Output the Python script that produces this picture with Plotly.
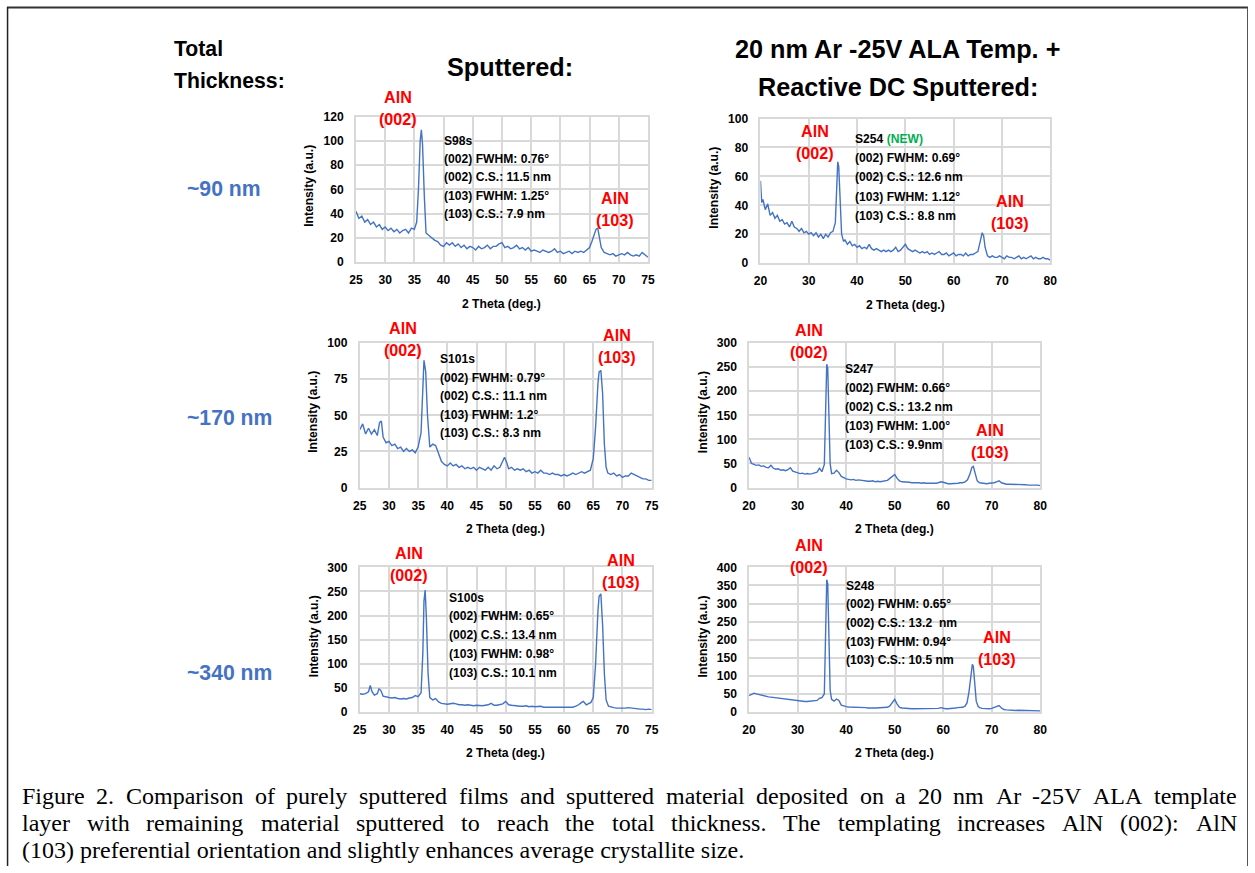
import plotly.graph_objects as go

W, H = 1255, 873
# The photographed page shows a small white pad around the document and is
# rescaled to the window; reference pixels are pre-compensated for that.
PAD = 6.0
SX = (W + 2 * PAD) / W
SY = (H + 2 * PAD) / H
BLUE = "#4472C4"
RED = "#FF0000"
GRID = "#D9D9D9"
SANS = "Liberation Sans, Arial, Helvetica, sans-serif"
SERIF = "Liberation Serif, Times New Roman, serif"

# ---------------- data ----------------
# S98s : sputtered, ~90 nm
two_theta_s98s = [
    25, 25.5, 26, 26.5, 27, 27.5, 28, 28.5, 29, 29.5, 30, 30.5, 31, 31.5, 32, 32.5, 33, 33.5, 34, 34.5, 35,
    35.4, 35.7, 36.0, 36.2, 36.4, 36.7, 37.0,
    37.5, 38, 38.5, 39, 39.5, 40, 40.5, 41, 41.5, 42,
    42.5, 43, 43.5, 44, 44.5, 45, 45.5, 46, 46.5, 47,
    47.5, 48, 48.5, 49, 49.5, 50, 50.5, 51, 51.5, 52,
    52.5, 53, 53.5, 54, 54.5, 55, 55.5, 56, 56.5, 57,
    57.5, 58, 58.5, 59, 59.5, 60, 60.5, 61, 61.5, 62,
    62.5, 63, 63.5, 64, 64.5, 65,
    65.4, 65.8, 66.1, 66.4, 66.7, 67.0,
    67.5, 68, 68.5, 69, 69.5, 70, 70.5, 71, 71.5, 72, 72.5, 73, 73.5, 74, 74.5, 75]
intensity_s98s = [
    42, 36, 38, 33, 35, 31, 33, 29, 31, 27, 29, 26, 28, 25, 27, 24, 26, 27, 24, 28, 27,
    33, 60, 100, 109, 97, 55, 24,
    22, 20, 18, 17, 14, 13, 16, 14, 16, 13,
    15, 12, 14, 11, 13, 12, 10, 13, 11, 12,
    14, 11, 13, 13, 15, 16, 12, 13, 11, 12,
    14, 11, 12, 10, 12, 9, 10, 9, 8, 10,
    9, 8, 9, 11, 8, 9, 7, 8, 9, 7,
    9, 8, 9, 8, 10, 12,
    17, 24, 27, 28, 20, 12,
    8, 7, 6, 7, 5, 6, 7, 6, 8, 6, 5, 6, 5, 8, 6, 4]

# S254 : templated, ~90 nm
two_theta_s254 = [
    20, 20.25,
    20.5, 21, 21.5, 22, 22.5, 23, 23.5, 24, 24.5, 25,
    25.5, 26, 26.5, 27, 27.5, 28, 28.5, 29, 29.5, 30,
    30.5, 31, 31.5, 32, 32.5, 33, 33.5, 34, 34.5, 35,
    35.5,
    35.8, 36.0, 36.2, 36.5, 36.8,
    37.2,
    37.5, 38, 38.5, 39, 39.5, 40, 40.5, 41, 41.5, 42,
    42.5, 43, 43.5, 44, 44.5, 45, 45.5, 46, 46.5, 47,
    47.5, 48, 48.5, 49, 49.5, 50, 50.5, 51, 51.5, 52,
    52.5, 53, 53.5, 54, 54.5, 55, 55.5, 56, 56.5, 57,
    57.5, 58, 58.5, 59, 59.5, 60, 60.5, 61, 61.5, 62,
    62.5, 63, 63.5, 64, 64.5, 65, 65.5,
    65.9, 66.2, 66.5,
    67, 67.5, 68, 68.5, 69, 69.5, 70, 70.5, 71, 71.5,
    72, 72.5, 73, 73.5, 74, 74.5, 75, 75.5, 76, 76.5,
    77, 77.5, 78, 78.5, 79, 79.5, 80]
intensity_s254 = [
    57, 42,
    44, 37, 41, 33, 35, 31, 33, 29, 30, 27,
    28, 25, 29, 25, 24, 22, 24, 21, 22, 20,
    21, 19, 21, 18, 20, 17, 20, 18, 21, 22,
    28,
    50, 70, 67, 40, 20,
    15,
    16, 13, 15, 12, 13, 11, 12, 10, 11, 10,
    13, 10, 9, 10, 9, 8, 9, 8, 9, 8,
    9, 11, 8, 9, 11, 13, 10, 9, 8, 9,
    8, 7, 8, 7, 8, 6, 7, 6, 7, 8,
    6, 6, 7, 5, 6, 7, 5, 6, 6, 5,
    7, 5, 6, 6, 7, 8, 15,
    21, 19, 11,
    5, 4, 5, 4, 4, 5, 4, 3, 5, 4,
    4, 3, 4, 5, 3, 4, 3, 4, 5, 3,
    4, 3, 3, 4, 3, 3, 2]

# S101s : sputtered, ~170 nm
two_theta_s101s = [
    25, 25.5, 26, 26.5, 27, 27.5, 28,
    28.4, 28.7,
    29, 29.5, 30, 30.5, 31, 31.5, 32, 32.5, 33, 33.5, 34, 34.5, 35, 35.5,
    35.8, 36.0, 36.3, 36.6, 37.0,
    37.5, 38, 38.5, 39, 39.5, 40, 40.5, 41, 41.5, 42,
    42.5, 43, 43.5, 44, 44.5, 45, 45.5, 46, 46.5, 47,
    47.5, 48, 48.5, 49, 49.5,
    49.8, 50.2,
    50.5, 51, 51.5, 52, 52.5, 53, 53.5, 54, 54.5, 55,
    55.5, 56, 56.5, 57, 57.5, 58, 58.5, 59, 59.5, 60,
    60.5, 61, 61.5, 62, 62.5, 63, 63.5, 64, 64.5,
    65.0, 65.4, 65.8, 66.0, 66.3, 66.6, 66.9, 67.2,
    67.5, 68, 68.5, 69, 69.5, 70, 70.5, 71, 71.5, 72,
    72.5, 73, 73.5, 74, 74.5, 75]
intensity_s101s = [
    40, 44, 37, 41, 37, 40, 36,
    45, 46,
    35, 31, 32, 29, 30, 27, 28, 25, 27, 25, 26, 24, 28, 38,
    76, 88, 80, 50, 28,
    30, 29, 23, 18, 16, 15, 17, 15, 16, 14,
    15, 13, 14, 13, 14, 12, 14, 13, 12, 14,
    12, 15, 13, 14, 18,
    21, 17,
    13, 14, 12, 13, 12, 13, 11, 12, 10, 11,
    10, 12, 10, 10, 9, 10, 9, 9, 8, 9,
    8, 9, 10, 9, 10, 11, 10, 11, 12,
    20, 42, 72, 80, 81, 65, 30, 14,
    10, 9, 10, 8, 9, 7, 8, 8, 10, 9,
    8, 7, 6, 6, 5, 5]

# S247 : templated, ~170 nm
two_theta_s247 = [
    20, 20.3,
    20.5, 21, 21.5, 22, 22.5, 23, 23.5, 24, 24.5, 25,
    25.5, 26, 26.5, 27, 27.5, 28, 28.5, 29, 29.5, 30,
    30.5, 31, 31.5, 32, 32.5, 33, 33.5, 34, 34.5, 35,
    35.5, 35.8, 36.0, 36.2, 36.4, 36.7, 37.0,
    37.5, 38, 38.5, 39, 39.5, 40, 40.5, 41, 41.5, 42,
    42.5, 43, 43.5, 44, 44.5, 45, 45.5, 46, 46.5, 47,
    47.5, 48, 48.5, 49, 49.5, 50, 50.5, 51, 51.5, 52,
    52.5, 53, 53.5, 54, 54.5, 55, 55.5, 56, 56.5, 57,
    57.5, 58, 58.5, 59, 59.5, 60, 60.5, 61, 61.5, 62,
    62.5, 63, 63.5, 64, 64.5, 65,
    65.5, 65.9, 66.2, 66.6, 67.0,
    67.5, 68, 68.5, 69, 69.5, 70, 70.5, 71, 71.5, 72,
    72.5, 73, 73.5, 74, 74.5, 75, 75.5, 76, 76.5, 77,
    77.5, 78, 78.5, 79, 79.5, 80]
intensity_s247 = [
    63, 57,
    50, 48, 46, 47, 44, 45, 42, 41, 46, 40,
    38, 39, 36, 37, 35, 37, 41, 34, 32, 30,
    29, 30, 28, 29, 28, 29, 30, 32, 40, 33,
    48, 150, 256, 248, 150, 50, 29,
    30, 36, 31, 23, 20, 18, 17, 16, 17, 15,
    16, 15, 14, 14, 13, 13, 14, 12, 13, 12,
    13, 14, 15, 19, 24, 27, 19, 14, 12, 12,
    11, 11, 10, 10, 11, 10, 9, 10, 9, 9,
    8, 9, 9, 10, 12, 11, 9, 8, 8, 8,
    9, 9, 10, 10, 12, 16,
    28, 42, 44, 30, 14,
    10, 9, 9, 8, 9, 9, 10, 12, 14, 10,
    8, 7, 7, 7, 6, 6, 7, 6, 6, 6,
    5, 5, 6, 6, 5, 4]

# S100s : sputtered, ~340 nm
two_theta_s100s = [
    25, 25.5, 26, 26.5,
    26.8, 27.1,
    27.5, 28,
    28.3, 28.6,
    29, 29.5, 30, 30.5, 31, 31.5, 32, 32.5, 33, 33.5, 34, 34.5, 35, 35.5,
    35.8, 36.0, 36.2, 36.4, 36.7, 37.0,
    37.5, 38, 38.5, 39, 39.5, 40, 40.5, 41, 41.5, 42,
    42.5, 43, 43.5, 44, 44.5, 45, 45.5, 46, 46.5, 47,
    47.5, 48, 48.5, 49, 49.5, 50, 50.5, 51, 51.5, 52,
    52.5, 53, 53.5, 54, 54.5, 55, 55.5, 56, 56.5, 57,
    57.5, 58, 58.5, 59, 59.5, 60, 60.5, 61, 61.5, 62,
    62.5,
    63.0, 63.3, 63.8, 64.2, 64.6, 65.0, 65.4, 65.8, 66.0, 66.3, 66.6, 66.9, 67.2,
    67.6, 68, 68.5, 69, 69.5, 70, 70.5, 71, 71.5, 72, 72.5, 73, 73.5, 74, 74.5, 75]
intensity_s100s = [
    38, 37, 38, 42,
    55, 42,
    35, 38,
    48, 45,
    33, 31, 30, 29, 30, 28, 27, 28, 27, 29, 30, 34, 32, 40,
    120, 230, 253, 200, 80, 30,
    25, 28, 21, 18, 17, 16, 17, 18, 17, 15,
    15, 14, 15, 14, 13, 14, 13, 13, 14, 15,
    18, 14, 14, 15, 17, 22, 15, 14, 13, 13,
    12, 12, 13, 11, 12, 11, 11, 12, 10, 10,
    10, 9, 9, 10, 9, 9, 9, 10, 10, 12,
    15,
    20, 22, 15, 18, 20, 30, 100, 210, 240, 245, 180, 80, 25,
    12, 10, 9, 8, 8, 7, 8, 9, 8, 7, 7, 6, 6, 5, 6, 5]

# S248 : templated, ~340 nm
two_theta_s248 = [
    20, 20.5, 21, 21.5, 22, 22.5, 23, 23.5, 24, 24.5,
    25, 25.5, 26, 26.5, 27, 27.5, 28, 28.5, 29, 29.5,
    30, 30.5, 31, 31.5, 32, 32.5, 33, 33.5, 34,
    34.5, 35, 35.5, 35.8, 36.0, 36.2, 36.4, 36.7, 37.0,
    37.5, 38, 38.5, 39, 39.5, 40, 40.5, 41, 41.5, 42,
    42.5, 43, 43.5, 44, 44.5, 45, 45.5, 46, 46.5, 47,
    47.5, 48, 48.5, 49, 49.5, 50, 50.5, 51, 51.5, 52,
    52.5, 53, 53.5, 54, 54.5, 55, 55.5, 56, 56.5, 57,
    57.5, 58, 58.5, 59, 59.5, 60, 60.5, 61, 61.5, 62,
    62.5, 63, 63.5, 64, 64.5,
    64.9, 65.3, 65.7, 66.0, 66.2, 66.5, 66.8, 67.2,
    67.5, 68, 68.5, 69, 69.5, 70, 70.5, 71, 71.5, 72,
    72.5, 73, 73.5, 74, 74.5, 75, 75.5, 76, 76.5, 77,
    77.5, 78, 78.5, 79, 79.5, 80]
intensity_s248 = [
    45, 48, 52, 50, 48, 47, 45, 44, 42, 41,
    40, 39, 38, 37, 36, 35, 35, 34, 33, 32,
    31, 30, 30, 29, 29, 30, 30, 31, 32,
    38, 40, 50, 200, 366, 355, 200, 60, 35,
    30, 36, 32, 19, 16, 15, 14, 14, 13, 13,
    13, 12, 12, 12, 11, 12, 11, 11, 11, 11,
    11, 12, 13, 17, 28, 35, 22, 13, 11, 10,
    10, 9, 9, 9, 9, 9, 8, 8, 8, 8,
    8, 8, 9, 10, 12, 10, 9, 9, 9, 10,
    11, 12, 12, 13, 16,
    25, 55, 110, 132, 126, 80, 30, 15,
    12, 10, 9, 9, 9, 10, 12, 16, 18, 11,
    7, 6, 5, 5, 5, 4, 5, 5, 4, 4,
    4, 4, 3, 3, 3, 3]

# annotation texts
sample_names = ["S98s", "S254 <span style='color:#00B050'>(NEW)</span>", "S101s", "S247", "S100s", "S248"]
fwhm_002 = ["0.76", "0.69", "0.79", "0.66", "0.65", "0.65"]
cs_002 = ["11.5 nm", "12.6 nm", "11.1 nm", "13.2 nm", "13.4 nm", "13.2  nm"]
fwhm_103 = ["1.25", "1.12", "1.2", "1.00", "0.98", "0.94"]
cs_103 = ["7.9 nm", "8.8 nm", "8.3 nm", "9.9nm", "10.1 nm", "10.5 nm"]
thickness_labels = ["~90 nm", "~170 nm", "~340 nm"]
caption_lines = [
    "Figure 2. Comparison of purely sputtered films and sputtered material deposited on a 20 nm Ar -25V ALA template",
    "layer with remaining material sputtered to reach the total thickness. The templating increases AlN (002): AlN",
    "(103) preferential orientation and slightly enhances average crystallite size.",
]

# ---------------- layout (reference-pixel geometry) ----------------
panels = [
    dict(x=two_theta_s98s, y=intensity_s98s, box=(355.5, 648, 115.7, 261.7), xr=[25, 75], xd=5, yr=[0, 120], yd=20,
         txt=(443, 140, 18.4), l002=(398, 96), l103=(615, 197), ylab=309),
    dict(x=two_theta_s254, y=intensity_s254, box=(760.7, 1051, 117.7, 262.7), xr=[20, 80], xd=10, yr=[0, 100], yd=20,
         txt=(854, 138.3, 19.2), l002=(815, 130), l103=(1011, 200), ylab=714),
    dict(x=two_theta_s101s, y=intensity_s101s, box=(359.3, 651.7, 342.7, 487.7), xr=[25, 75], xd=5, yr=[0, 100], yd=25,
         txt=(439, 359, 18.6), l002=(403, 328), l103=(617, 335), ylab=313),
    dict(x=two_theta_s247, y=intensity_s247, box=(749.3, 1041, 342.7, 487.7), xr=[20, 80], xd=10, yr=[0, 300], yd=50,
         txt=(844, 369, 19), l002=(809, 330), l103=(991, 430), ylab=703),
    dict(x=two_theta_s100s, y=intensity_s100s, box=(359.3, 651.7, 567.7, 712.7), xr=[25, 75], xd=5, yr=[0, 300], yd=50,
         txt=(448, 598, 18.8), l002=(409, 553), l103=(621, 560), ylab=313),
    dict(x=two_theta_s248, y=intensity_s248, box=(749.3, 1041, 567.7, 712.7), xr=[20, 80], xd=10, yr=[0, 400], yd=50,
         txt=(845, 586, 18.7), l002=(809, 545), l103=(998, 638), ylab=703),
]


def px(x):
    return min(max((x * SX - PAD) / W, 0.0), 1.0)


def py(y):
    return min(max(1 - (y * SY - PAD) / H, 0.0), 1.0)


fig = go.Figure()
annotations = []
layout = {}


def note(text, x, y, size, color="black", xanchor="center", family=SANS, bold=True, angle=0):
    annotations.append(dict(
        text=text, x=px(x), y=py(y), xref="paper", yref="paper", xanchor=xanchor, yanchor="middle",
        showarrow=False, textangle=angle, borderpad=0,
        font=dict(family=family, size=size * SX, color=color, weight="bold" if bold else "normal")))


tickfont = dict(family=SANS, size=12 * SX, color="black", weight="bold")

for i, p in enumerate(panels):
    sfx = "" if i == 0 else str(i + 1)
    x0, x1, yt, yb = p["box"]
    fig.add_trace(go.Scatter(
        x=p["x"], y=p["y"], mode="lines", line=dict(color=BLUE, width=1.4),
        xaxis="x" + sfx, yaxis="y" + sfx, showlegend=False, hoverinfo="skip"))
    layout["xaxis" + sfx] = dict(
        domain=[px(x0), px(x1)], range=p["xr"], dtick=p["xd"], tick0=p["xr"][0], anchor="y" + sfx,
        showgrid=True, gridcolor=GRID, gridwidth=1.5, zeroline=False,
        showline=True, linecolor=GRID, linewidth=1.5, mirror=True,
        ticks="outside", ticklen=6, tickcolor="rgba(0,0,0,0)", tickfont=tickfont, fixedrange=True)
    layout["yaxis" + sfx] = dict(
        domain=[py(yb), py(yt)], range=p["yr"], dtick=p["yd"], tick0=0, anchor="x" + sfx,
        showgrid=True, gridcolor=GRID, gridwidth=1.5, zeroline=False,
        showline=True, linecolor=GRID, linewidth=1.5, mirror=True,
        ticks="outside", ticklen=8, tickcolor="rgba(0,0,0,0)", tickfont=tickfont, fixedrange=True)

    # axis titles
    note("2 Theta (deg.)", (x0 + x1) / 2, yb + 41.5, 12)
    note("Intensity (a.u.)", p["ylab"], (yt + yb) / 2 - 3, 12, angle=-90)

    # info block
    tx, ty, dy = p["txt"]
    lines = [sample_names[i],
             "(002) FWHM: " + fwhm_002[i] + "°",
             "(002) C.S.: " + cs_002[i],
             "(103) FWHM: " + fwhm_103[i] + "°",
             "(103) C.S.: " + cs_103[i]]
    for k, t in enumerate(lines):
        note(t, tx, ty + k * dy, 12, xanchor="left")

    # peak labels
    lx, ly = p["l002"]
    note("AlN", lx, ly, 16, color=RED)
    note("(002)", lx, ly + 22, 16, color=RED)
    lx, ly = p["l103"]
    note("AlN", lx, ly, 16, color=RED)
    note("(103)", lx, ly + 22, 16, color=RED)

# row labels
for t, yy in zip(thickness_labels, [188, 417, 673]):
    note(t, 185, yy, 21, color=BLUE, xanchor="left")

# headers
note("Total", 172, 48, 21, xanchor="left")
note("Thickness:", 172, 80, 21, xanchor="left")
note("Sputtered:", 510, 66, 25)
note("20 nm Ar -25V ALA Temp. +", 898, 48, 25)
note("Reactive DC Sputtered:", 898, 86, 25)

# caption: justified Times text (Liberation Serif has Times New Roman metrics)
TIMES_W = {
    'a': 444, 'b': 500, 'c': 444, 'd': 500, 'e': 444, 'f': 333, 'g': 500, 'h': 500, 'i': 278, 'j': 278,
    'k': 500, 'l': 278, 'm': 778, 'n': 500, 'o': 500, 'p': 500, 'q': 500, 'r': 333, 's': 389, 't': 278,
    'u': 500, 'v': 500, 'w': 722, 'x': 500, 'y': 500, 'z': 444,
    'A': 722, 'B': 667, 'C': 667, 'D': 722, 'E': 611, 'F': 556, 'G': 722, 'H': 722, 'I': 333, 'J': 389,
    'K': 722, 'L': 611, 'M': 889, 'N': 722, 'O': 722, 'P': 556, 'Q': 722, 'R': 667, 'S': 556, 'T': 611,
    'U': 722, 'V': 722, 'W': 944, 'X': 722, 'Y': 722, 'Z': 611,
    ' ': 250, '.': 250, ',': 250, ':': 278, '-': 333, '(': 333, ')': 333,
}


def tw(s):
    return sum(TIMES_W.get(c, 500) for c in s) / 1000.0


CAP_L, CAP_R = 20, 1237
cap_size = 23.8
cap_y = [797, 824, 851]
for li, (t, yy) in enumerate(zip(caption_lines, cap_y)):
    if li == len(caption_lines) - 1:
        note(t, CAP_L, yy, cap_size, family=SERIF, bold=False, xanchor="left")
        continue
    words = t.split(" ")
    widths = [tw(w) * cap_size * SX for w in words]
    gap = (CAP_R - CAP_L - sum(widths)) / (len(words) - 1)
    xx = CAP_L
    for w, wd in zip(words, widths):
        note(w, xx, yy, cap_size, family=SERIF, bold=False, xanchor="left")
        xx += wd + gap

shapes = [
    dict(type="line", xref="paper", yref="paper", x0=0, x1=1, y0=py(6.5), y1=py(6.5),
         line=dict(color="#333333", width=2)),
    dict(type="line", xref="paper", yref="paper", x0=px(6.5), x1=px(6.5), y0=0, y1=1,
         line=dict(color="#222222", width=1.5)),
    dict(type="line", xref="paper", yref="paper", x0=px(1253.5) - 0.5 / W, x1=px(1253.5) - 0.5 / W,
         y0=0, y1=py(6.5), line=dict(color="#555555", width=1)),
]

fig.update_layout(
    width=W, height=H, margin=dict(l=0, r=0, t=0, b=0),
    paper_bgcolor="white", plot_bgcolor="white",
    annotations=annotations, shapes=shapes, showlegend=False, **layout)

fig.write_html(
    "out.html",
    config={"displayModeBar": False},
    post_script="document.body.style.margin='0';document.body.style.padding='0';"
                "document.documentElement.style.overflow='hidden';")
